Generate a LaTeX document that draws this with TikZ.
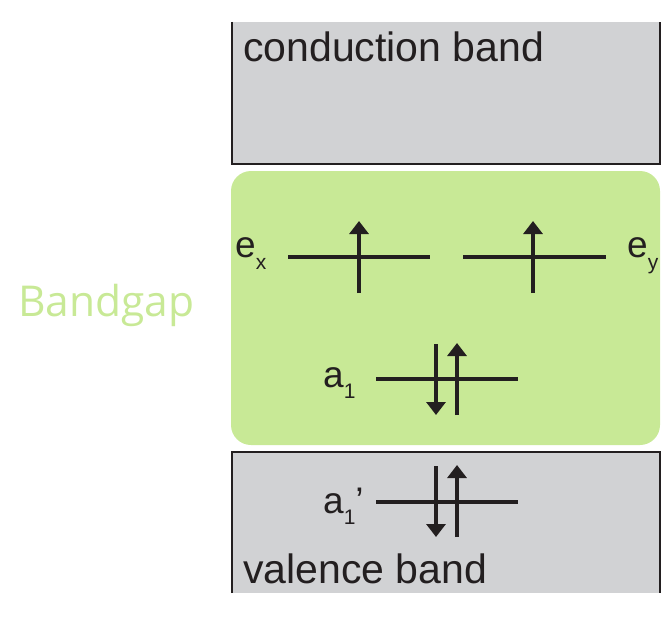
\documentclass[tikz,border=0pt]{standalone}
\usepackage{fontspec}
\setmainfont{Liberation Sans}
\newfontfamily\gapfont{Open Sans}
\usetikzlibrary{arrows.meta}
\definecolor{bandgray}{HTML}{D1D2D4}
\definecolor{gapgreen}{HTML}{C8E996}
\definecolor{edge}{HTML}{231F20}
\tikzset{
  level/.style={line width=4pt, edge},
  spin/.style={line width=4pt, edge, -{Triangle[width=19pt,length=13pt]}},
  bandline/.style={line width=2pt, edge},
  bandtext/.style={anchor=base west, inner sep=0pt, font=\fontsize{41}{41}\selectfont, text=edge},
  lbl/.style={anchor=base west, inner sep=0pt, text=edge},
}
\newcommand{\bigsz}{\fontsize{37}{37}\selectfont}
\newcommand{\subsz}{\fontsize{21}{21}\selectfont}
\begin{document}
\begin{tikzpicture}[x=1pt,y=-1pt]
\useasboundingbox (0,0) rectangle (663,618);
% conduction band
\fill[bandgray] (232,22) rectangle (660,164);
\draw[bandline] (232,22) -- (232,164) -- (660,164) -- (660,22);
\node[bandtext] (cb) at (243,62) {conduction band};
% bandgap region
\fill[gapgreen, rounded corners=20pt] (231,171) rectangle (660,445);
\node[anchor=base west, inner sep=0pt, text=gapgreen, font=\gapfont\fontsize{42.5}{42.5}\selectfont] (bg) at (18,316) {Bandgap};
% valence band
\fill[bandgray] (232,452) rectangle (660,593);
\draw[bandline] (232,593) -- (232,452) -- (660,452) -- (660,593);
\node[bandtext] (vb) at (243,583) {valence band};
% e_x level
\coordinate (exL) at (288,257); \coordinate (exR) at (430,257);
\draw[level] (exL) -- (exR);
\coordinate (exB) at (359,293); \coordinate (exT) at (359,221);
\draw[spin] (exB) -- (exT);
\node[lbl] (exlab) at (235,257) {\bigsz e\subsz\raisebox{-12pt}{x}};
% e_y level
\coordinate (eyL) at (463,257); \coordinate (eyR) at (606,257);
\draw[level] (eyL) -- (eyR);
\coordinate (eyB) at (533,293); \coordinate (eyT) at (533,221);
\draw[spin] (eyB) -- (eyT);
\node[lbl] (eylab) at (627,257) {\bigsz e\subsz\raisebox{-12pt}{y}};
% a1 level
\coordinate (aL) at (376,379); \coordinate (aR) at (518,379);
\draw[level] (aL) -- (aR);
\coordinate (adT) at (436,344); \coordinate (adB) at (436,415);
\draw[spin] (adT) -- (adB);
\coordinate (auB) at (457,415); \coordinate (auT) at (457,343);
\draw[spin] (auB) -- (auT);
\node[lbl] (alab) at (323,387) {\bigsz a\subsz\raisebox{-11pt}{1}};
% a1' level
\coordinate (bL) at (376,502); \coordinate (bR) at (518,502);
\draw[level] (bL) -- (bR);
\coordinate (bdT) at (436,466); \coordinate (bdB) at (436,537);
\draw[spin] (bdT) -- (bdB);
\coordinate (buB) at (457,537); \coordinate (buT) at (457,465);
\draw[spin] (buB) -- (buT);
\node[lbl] (blab) at (323,513) {\bigsz a\subsz\raisebox{-11pt}{1}\bigsz’};
\end{tikzpicture}
\end{document}
